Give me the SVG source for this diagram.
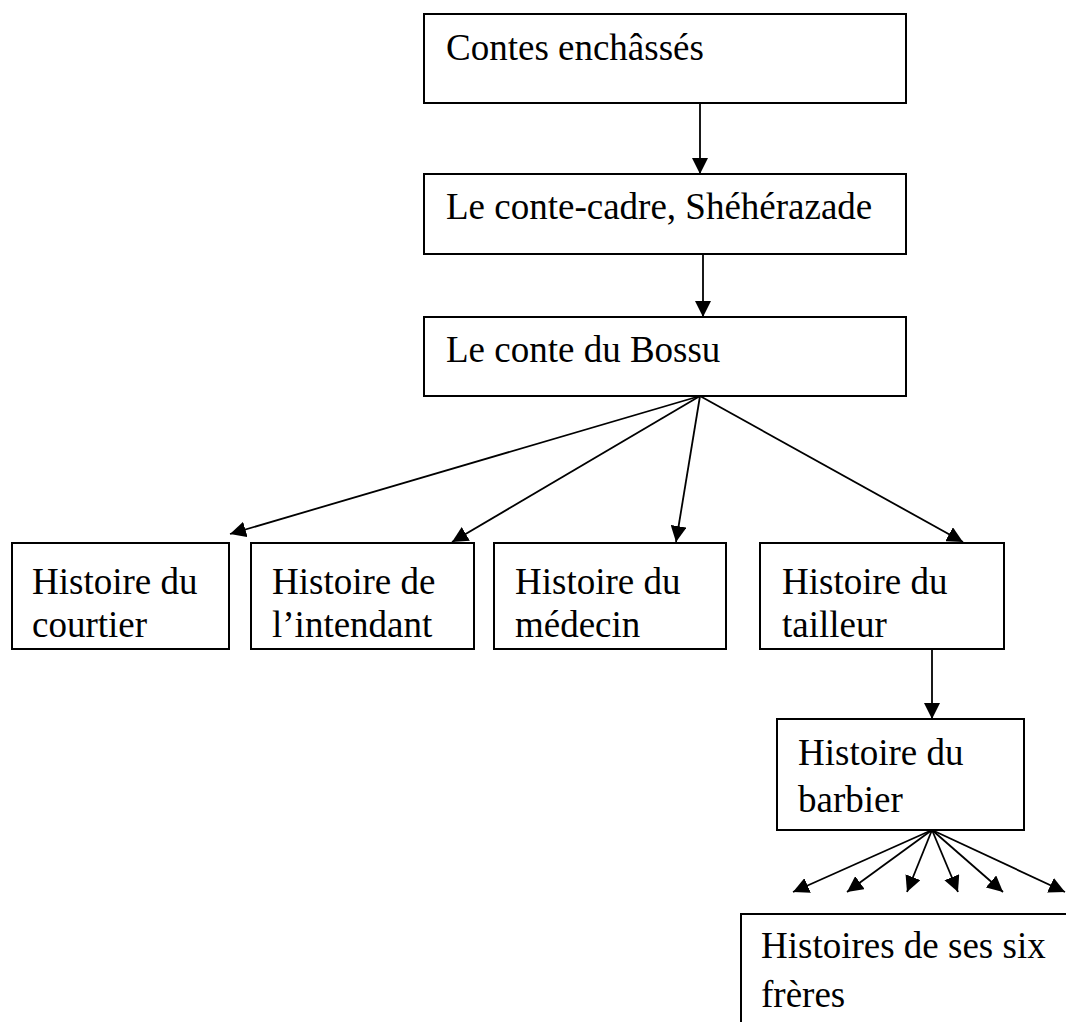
<svg xmlns="http://www.w3.org/2000/svg" width="1066" height="1022" viewBox="0 0 1066 1022">
<style>
.box{fill:#fff;stroke:#000;stroke-width:2}
.t{font-family:"Liberation Serif","Times New Roman",serif;font-size:37px;fill:#000}
.c{stroke:#000;stroke-width:1.8;fill:none;marker-end:url(#ah)}
</style>
<defs>
<marker id="ah" markerUnits="userSpaceOnUse" markerWidth="18" markerHeight="16" refX="16" refY="8" orient="auto">
<path d="M0,0 L16,8 L0,16 z" fill="#000"/>
</marker>
</defs>
<rect width="1066" height="1022" fill="#fff"/>
<g id="connectors">
<line class="c" x1="700" y1="103" x2="700" y2="174"/>
<line class="c" x1="703" y1="254" x2="703" y2="317"/>
<line class="c" x1="700" y1="396" x2="230" y2="534"/>
<line class="c" x1="700" y1="396" x2="452" y2="542"/>
<line class="c" x1="700" y1="396" x2="676" y2="542"/>
<line class="c" x1="700" y1="396" x2="963" y2="542"/>
<line class="c" x1="932" y1="649" x2="932" y2="719"/>
<line class="c" x1="932" y1="830" x2="793" y2="892"/>
<line class="c" x1="932" y1="830" x2="847" y2="892"/>
<line class="c" x1="932" y1="830" x2="907" y2="892"/>
<line class="c" x1="932" y1="830" x2="958" y2="892"/>
<line class="c" x1="932" y1="830" x2="1003" y2="892"/>
<line class="c" x1="932" y1="830" x2="1065" y2="892"/>
</g>
<g id="n1"><rect class="box" x="424" y="14" width="482" height="89"/><text class="t" x="446" y="60">Contes enchâssés</text></g>
<g id="n2"><rect class="box" x="424" y="174" width="482" height="80"/><text class="t" x="446" y="219">Le conte-cadre, Shéhérazade</text></g>
<g id="n3"><rect class="box" x="424" y="317" width="482" height="79"/><text class="t" x="446" y="362">Le conte du Bossu</text></g>
<g id="n4"><rect class="box" x="12" y="543" width="217" height="106"/><text class="t" x="32" y="594">Histoire du</text><text class="t" x="32" y="637">courtier</text></g>
<g id="n5"><rect class="box" x="251" y="543" width="223" height="106"/><text class="t" x="272" y="594">Histoire de</text><text class="t" x="272" y="637">l’intendant</text></g>
<g id="n6"><rect class="box" x="494" y="543" width="232" height="106"/><text class="t" x="515" y="594">Histoire du</text><text class="t" x="515" y="637">médecin</text></g>
<g id="n7"><rect class="box" x="760" y="543" width="244" height="106"/><text class="t" x="782" y="594">Histoire du</text><text class="t" x="782" y="637">tailleur</text></g>
<g id="n8"><rect class="box" x="777" y="719" width="247" height="111"/><text class="t" x="798" y="765">Histoire du</text><text class="t" x="798" y="812">barbier</text></g>
<g id="n9"><rect class="box" x="741" y="914" width="340" height="120"/><text class="t" x="761" y="958">Histoires de ses six</text><text class="t" x="761" y="1007">frères</text></g>
</svg>
